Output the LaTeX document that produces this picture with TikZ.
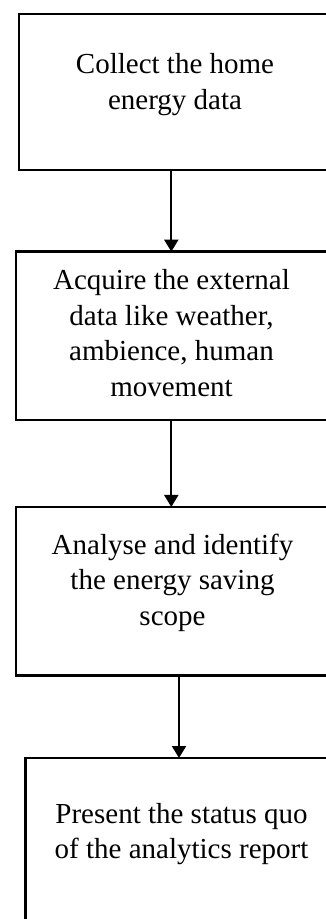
\documentclass[tikz,border=0pt]{standalone}
\usepackage{fontspec}
\setmainfont{Liberation Serif}
\usetikzlibrary{arrows.meta}
\begin{document}
\begin{tikzpicture}[x=1pt,y=-1pt,
  box/.style={draw, line width=2.4pt, inner sep=0pt, outer sep=0pt},
  txt/.style={anchor=base, align=center, inner sep=0pt, font=\fontsize{29}{35.5}\selectfont},
  arr/.style={line width=2pt, -{Triangle[length=12pt,width=14pt]}}]
\useasboundingbox (0,0) rectangle (325,919);
\node[box, minimum width=309.2pt, minimum height=155.9pt] (b1) at (173.4,91.75) {};
\node[box, minimum width=311.8pt, minimum height=168.3pt] (b2) at (172.1,335.8) {};
\node[box, minimum width=311.8pt, minimum height=168.7pt] (b3) at (172.1,591.3) {};
\node[box, minimum width=309.7pt, minimum height=167pt] (b4) at (180.15,841.5) {};
\node[txt] (t1) at (175,109) {Collect the home\\energy data};
\node[txt] (t2) at (171.5,396) {Acquire the external\\data like weather,\\ambience, human\\movement};
\node[txt] (t3) at (172.5,625) {Analyse and identify\\the energy saving\\scope};
\node[txt] (t4) at (181.5,858.5) {Present the status quo\\of the analytics report};
\coordinate (x1) at (171.3,0);
\coordinate (x3) at (179,0);
\draw[arr] (b1.south -| x1) -- (b2.north -| x1);
\draw[arr] (b2.south -| x1) -- (b3.north -| x1);
\draw[arr] (b3.south -| x3) -- (b4.north -| x3);
\end{tikzpicture}
\end{document}
